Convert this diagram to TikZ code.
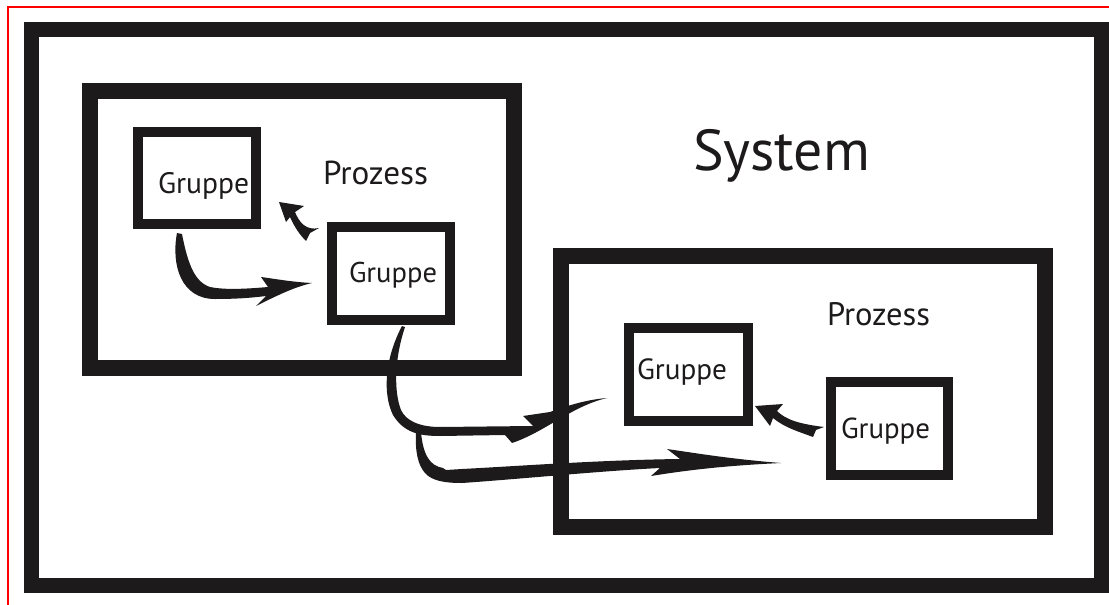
\documentclass[tikz,border=0pt]{standalone}
\usepackage{fontspec}
\setmainfont{PT Sans}
\usepackage{graphicx}
\definecolor{ink}{RGB}{28,26,27}
\begin{document}
\begin{tikzpicture}[x=1pt,y=-1pt,
  box/.style={draw=ink, rectangle, inner sep=0pt, outer sep=0pt},
  sysbox/.style={box, line width=15pt},
  procbox/.style={box, line width=16pt},
  grpbox/.style={box, line width=10pt},
  lbl/.style={anchor=base west, inner sep=0pt, outer sep=0pt, text=ink},
  swoosh/.style={fill=ink, draw=none}]
\useasboundingbox (0,0) rectangle (1109,605);
\fill[white] (0,0) rectangle (1109,605);
\draw[red, line width=2pt] (8,605) -- (8,7) -- (1109,7);

% boxes
\node[sysbox, minimum width=1069.5pt, minimum height=556.5pt] (sys) at (566.25,307.25) {};
\node[procbox, minimum width=424pt, minimum height=276.5pt] (p1) at (302,229.25) {};
\node[procbox, minimum width=483.5pt, minimum height=271pt] (p2) at (802.75,391.5) {};
\node[grpbox, minimum width=118pt, minimum height=92pt] (g1) at (197,178) {};
\node[grpbox, minimum width=118pt, minimum height=92.5pt] (g2) at (390.5,273.25) {};
\node[grpbox, minimum width=118.5pt, minimum height=93pt] (g3) at (688.25,374.5) {};
\node[grpbox, minimum width=117.5pt, minimum height=92.5pt] (g4) at (889.25,428.25) {};

% labels
\node[lbl] (tsys) at (693,170) {\resizebox{177pt}{!}{System}};
\node[lbl] (tp1) at (323,184) {\resizebox{105pt}{!}{Prozess}};
\node[lbl] (tp2) at (827,325) {\resizebox{103pt}{!}{Prozess}};
\node[lbl] (tg1) at (158,193) {\resizebox{91pt}{!}{Gruppe}};
\node[lbl] (tg2) at (349,282) {\resizebox{88pt}{!}{Gruppe}};
\node[lbl] (tg3) at (637,379) {\resizebox{90pt}{!}{Gruppe}};
\node[lbl] (tg4) at (841,438) {\resizebox{89pt}{!}{Gruppe}};

% arrow g1 -> g2
\coordinate (a1s) at (177,233);
\fill[swoosh] (a1s) .. controls (171,265) and (181,299) .. (215,299)
  .. controls (235,299) and (250,298) .. (266,296)
  -- (256,306) .. controls (280,294) and (295,287) .. (312,283)
  .. controls (292,282) and (276,279) .. (261,277)
  -- (268,287) .. controls (245,289) and (225,290) .. (210,287)
  .. controls (195,282) and (188,265) .. (182,234) -- cycle;

% arrow g2 -> g1
\fill[swoosh] (319,228) .. controls (306,231) and (299,222) .. (295,212)
  -- (304,206) -- (279,202) -- (286,222) -- (290,217)
  .. controls (295,228) and (300,235) .. (306,241)
  -- (310,233) -- cycle;

% arrow g4 -> g3
\fill[swoosh] (824,427) .. controls (800,424) and (786,420) .. (777,411)
  -- (783,404) -- (755,406) -- (770,426) -- (773,418)
  .. controls (785,428) and (800,432) .. (813,437)
  -- (816,430) -- cycle;

% arrow g2 -> g3 (long)
\fill[swoosh] (402,326) .. controls (384,360) and (383,395) .. (393,415)
  .. controls (404,433) and (420,436) .. (440,436)
  -- (505,435) -- (512,443)
  .. controls (545,432) and (572,406) .. (607,398)
  .. controls (582,400) and (562,408) .. (550,412)
  -- (523,416) -- (533,426)
  -- (440,427) .. controls (420,427) and (406,421) .. (401,410)
  .. controls (394,392) and (394,360) .. (405,327) -- cycle;

% branch g2 -> g4
\fill[swoosh] (416,432) .. controls (415,452) and (418,465) .. (425,473)
  .. controls (432,481) and (445,483) .. (462,483)
  .. controls (520,479) and (600,471) .. (660,468)
  -- (651,476) .. controls (700,468) and (740,465) .. (781,463)
  .. controls (730,459) and (695,453) .. (667,449)
  -- (680,459) .. controls (600,460) and (520,466) .. (462,469)
  -- (446,470) -- (443,468)
  .. controls (430,466) and (423,455) .. (421,432) -- cycle;
\end{tikzpicture}
\end{document}
